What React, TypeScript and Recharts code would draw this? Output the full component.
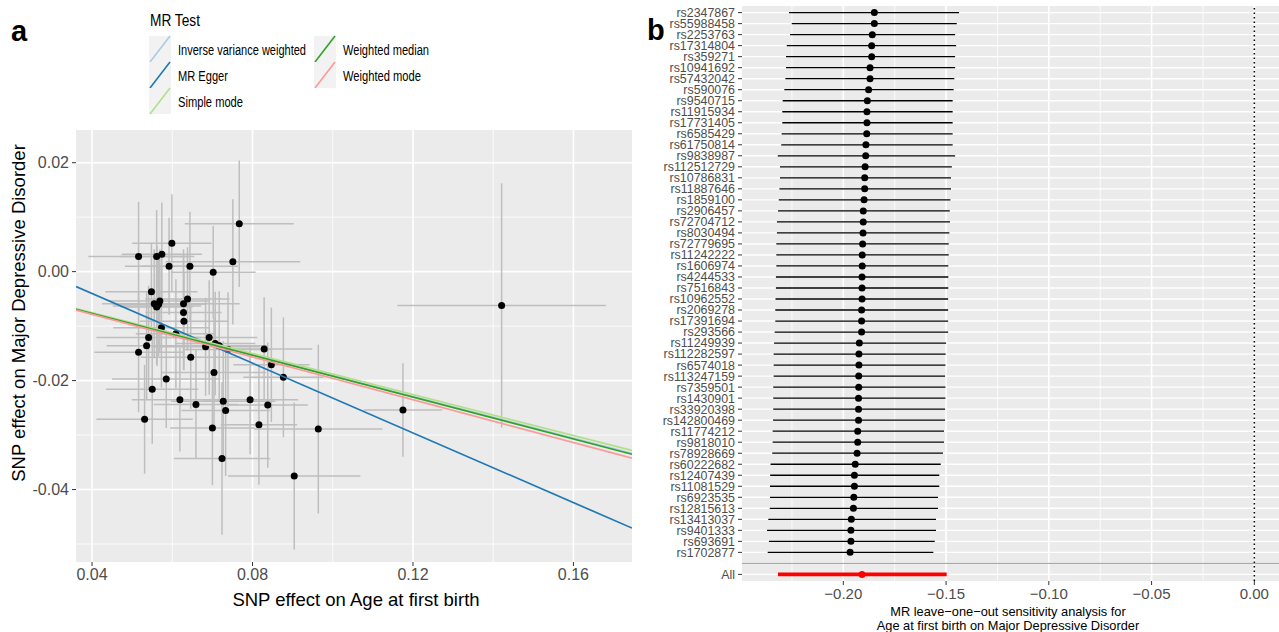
import React from 'react'
import {
  ScatterChart,
  Scatter,
  XAxis,
  YAxis,
  ErrorBar,
  ReferenceLine,
  ReferenceArea,
} from 'recharts'

// ---- panel a: per-SNP effects on exposure (x) and outcome (y), with SEs
const snpX = [
  0.0767, 0.0599, 0.0516, 0.0561, 0.0574, 0.0592, 0.0644, 0.0751, 0.0702, 0.0548,
  0.0555, 0.0562, 0.0569, 0.0561, 0.0638, 0.0628, 0.0628, 0.0629, 0.0573, 0.0609,
  0.0541, 0.0692, 0.0536, 0.0516, 0.0683, 0.0707, 0.0717, 0.0739, 0.0646, 0.0829,
  0.0847, 0.0704, 0.0877, 0.0585, 0.055, 0.0619, 0.0659, 0.0727, 0.0733, 0.0794,
  0.0838, 0.0531, 0.07, 0.0816, 0.0964, 0.0724, 0.0904, 0.1175, 0.1421, 0.0566,
]
const snpY = [
  0.0088, 0.0052, 0.0028, 0.0028, 0.0032, 0.001, 0.001, 0.0018, -0.0001, -0.0037,
  -0.0059, -0.0063, -0.0054, -0.0065, -0.005, -0.0059, -0.0075, -0.0091, -0.0103, -0.0114,
  -0.0121, -0.0121, -0.0136, -0.0148, -0.0138, -0.0132, -0.0136, -0.0143, -0.0157, -0.0142,
  -0.0171, -0.0185, -0.0194, -0.0197, -0.0216, -0.0235, -0.0244, -0.0238, -0.0255, -0.0235,
  -0.0245, -0.0271, -0.0287, -0.0281, -0.0289, -0.0343, -0.0375, -0.0254, -0.0062, -0.006,
]
const seX = [
  0.0136, 0.0099, 0.0125, 0.0094, 0.01, 0.011, 0.012, 0.0168, 0.0106, 0.0115,
  0.013, 0.011, 0.0125, 0.009, 0.0105, 0.014, 0.0095, 0.011, 0.012, 0.01,
  0.013, 0.012, 0.01, 0.011, 0.0135, 0.01, 0.012, 0.011, 0.0125, 0.012,
  0.0095, 0.013, 0.01, 0.0135, 0.0115, 0.012, 0.0105, 0.013, 0.011, 0.012,
  0.01, 0.012, 0.0105, 0.0095, 0.016, 0.012, 0.0165, 0.0098, 0.026, 0.0115,
]
const seY = [
  0.0116, 0.009, 0.01, 0.0085, 0.0095, 0.0089, 0.01, 0.0115, 0.0085, 0.009,
  0.01, 0.011, 0.0095, 0.0105, 0.0095, 0.01, 0.0105, 0.009, 0.011, 0.01,
  0.0095, 0.0105, 0.01, 0.011, 0.009, 0.0095, 0.01, 0.0105, 0.0095, 0.0095,
  0.0105, 0.01, 0.011, 0.009, 0.01, 0.0095, 0.01, 0.011, 0.012, 0.01,
  0.0115, 0.01, 0.0105, 0.011, 0.0155, 0.014, 0.0135, 0.0086, 0.0224, 0.0095,
]

const methods = ['Inverse variance weighted', 'MR Egger', 'Simple mode', 'Weighted median', 'Weighted mode']
const methodColors = ['#a6cee3', '#1f78b4', '#b2df8a', '#33a02c', '#fb9a99']
const methodSlope = [-0.191, -0.32, -0.188, -0.192, -0.196]
const methodIntercept = [0, 0.0088, 0, 0, 0]

const xDomA = [0.036, 0.1746]
const yDomA = [-0.0533, 0.026]
const xTicksA = [0.04, 0.08, 0.12, 0.16]
const xMinorA = [0.06, 0.1, 0.14]
const yTicksA = [-0.04, -0.02, 0, 0.02]
const yMinorA = [-0.05, -0.03, -0.01, 0.01]

// ---- panel b: leave-one-out estimates
const snpNames = [
  'rs2347867', 'rs55988458', 'rs2253763', 'rs17314804', 'rs359271', 'rs10941692', 'rs57432042',
  'rs590076', 'rs9540715', 'rs11915934', 'rs17731405', 'rs6585429', 'rs61750814', 'rs9838987',
  'rs112512729', 'rs10786831', 'rs11887646', 'rs1859100', 'rs2906457', 'rs72704712', 'rs8030494',
  'rs72779695', 'rs11242222', 'rs1606974', 'rs4244533', 'rs7516843', 'rs10962552', 'rs2069278',
  'rs17391694', 'rs293566', 'rs11249939', 'rs112282597', 'rs6574018', 'rs113247159', 'rs7359501',
  'rs1430901', 'rs33920398', 'rs142800469', 'rs11774212', 'rs9818010', 'rs78928669', 'rs60222682',
  'rs12407439', 'rs11081529', 'rs6923535', 'rs12815613', 'rs13413037', 'rs9401333', 'rs693691',
  'rs1702877',
]
const looB = [
  -0.1849, -0.1849, -0.1859, -0.1862, -0.1862, -0.187, -0.187, -0.1877, -0.1883, -0.1885,
  -0.1885, -0.1886, -0.189, -0.1891, -0.1894, -0.1896, -0.1896, -0.1899, -0.1903, -0.1903,
  -0.1904, -0.1906, -0.1908, -0.1908, -0.1909, -0.1909, -0.1909, -0.1911, -0.1911, -0.1911,
  -0.1922, -0.1924, -0.1924, -0.1925, -0.1925, -0.1926, -0.1926, -0.1926, -0.193, -0.193,
  -0.1933, -0.1942, -0.1946, -0.1946, -0.1949, -0.1951, -0.1961, -0.1963, -0.1963, -0.1967,
]
const looLo = [
  -0.2264, -0.2251, -0.2259, -0.2275, -0.2279, -0.2279, -0.2282, -0.2287, -0.2295, -0.2297,
  -0.2297, -0.23, -0.2302, -0.2319, -0.2308, -0.2308, -0.2311, -0.2314, -0.2318, -0.2323,
  -0.2323, -0.2326, -0.2326, -0.2326, -0.2328, -0.2328, -0.233, -0.2331, -0.2331, -0.2334,
  -0.2337, -0.2339, -0.2339, -0.2339, -0.2341, -0.2341, -0.2341, -0.2342, -0.2344, -0.2344,
  -0.2346, -0.2354, -0.2356, -0.2357, -0.2357, -0.2358, -0.2365, -0.2371, -0.2362, -0.2368,
]
const looHi = [
  -0.1437, -0.1448, -0.1456, -0.1451, -0.1456, -0.1456, -0.146, -0.1463, -0.1468, -0.1468,
  -0.1468, -0.1468, -0.1468, -0.1456, -0.1472, -0.1476, -0.1476, -0.1479, -0.1482, -0.1481,
  -0.1484, -0.1487, -0.1487, -0.1489, -0.1489, -0.1489, -0.149, -0.149, -0.149, -0.149,
  -0.15, -0.1502, -0.1503, -0.1505, -0.1503, -0.1503, -0.1505, -0.1505, -0.151, -0.151,
  -0.1515, -0.1526, -0.1533, -0.1533, -0.1539, -0.1539, -0.1549, -0.1549, -0.1555, -0.1562,
]
const allB = -0.1909
const allLo = -0.2318
const allHi = -0.1497

const xDomB = [-0.2493, 0.012]
const xTicksB = [-0.2, -0.15, -0.1, -0.05, 0]
const xMinorB = [-0.225, -0.175, -0.125, -0.075, -0.025]

const FONT = '"Liberation Sans", Arial, Helvetica, sans-serif'
const GRID_BG = '#ebebeb'
const TEXT_GREY = '#4d4d4d'

const pointsA = snpX.map((x, i) => ({ x, y: snpY[i], ex: seX[i], ey: seY[i] }))

const methodLines = methods.map((m, i) => ({
  name: m,
  color: methodColors[i],
  data: xDomA.map((x) => ({ x, y: methodIntercept[i] + methodSlope[i] * x })),
}))

const allPos = snpNames.length + 1 // one blank row between SNPs and "All"
const rowsB = snpNames.map((name, i) => ({
  name,
  pos: i,
  b: looB[i],
  err: [looB[i] - looLo[i], looHi[i] - looB[i]],
}))
const allRow = [{ name: 'All', pos: allPos, b: allB, err: [allB - allLo, allHi - allB] }]
const posTicks = [...rowsB.map((r) => r.pos), allPos]
const rowLines = Array.from({ length: allPos + 1 }, (_, i) => i)

const labelAt = (p: number) => (p === allPos ? 'All' : snpNames[p] ?? '')
const fmtMinus = (v: number) => (v === 0 ? '0.00' : '\u2212' + Math.abs(v).toFixed(2))

const Dot = (color: string, r: number) => (props: any) =>
  <circle cx={props.cx} cy={props.cy} r={r} fill={color} />

const NoShape = () => <g />

function Legend() {
  const col1 = [0, 1, 2]
  const col2 = [3, 4]
  const widths = [128, 50, 65, 86, 78]
  const key = (i: number, x: number, y: number) => (
    <g key={methods[i]}>
      <rect x={x} y={y} width={22} height={26} fill="#f2f2f2" />
      <line x1={x + 1} y1={y + 26} x2={x + 21} y2={y} stroke={methodColors[i]} strokeWidth={1.6} />
      <text
        x={x + 29}
        y={y + 19}
        fontSize={14}
        fill="#000"
        textLength={widths[i]}
        lengthAdjust="spacingAndGlyphs"
      >
        {methods[i]}
      </text>
    </g>
  )
  return (
    <svg width={520} height={125} style={{ position: 'absolute', left: 0, top: 0 }} fontFamily={FONT}>
      <text x={150} y={26} fontSize={16} textLength={50} lengthAdjust="spacingAndGlyphs">
        MR Test
      </text>
      {col1.map((i, k) => key(i, 149, 36 + k * 26))}
      {col2.map((i, k) => key(i, 314, 36 + k * 26))}
    </svg>
  )
}

function PanelA() {
  return (
    <div style={{ position: 'absolute', left: 0, top: 0 }}>
      <ScatterChart width={640} height={632} margin={{ top: 130, right: 8, bottom: 40, left: 0 }}>
        <XAxis
          type="number"
          dataKey="x"
          domain={xDomA}
          ticks={xTicksA}
          allowDataOverflow
          tickFormatter={(v) => v.toFixed(2)}
          height={30}
          tickSize={4}
          tickMargin={3}
          tick={{ fontSize: 16, fill: TEXT_GREY, fontFamily: FONT }}
          tickLine={{ stroke: '#333' }}
          axisLine={false}
        />
        <YAxis
          type="number"
          dataKey="y"
          domain={yDomA}
          ticks={yTicksA}
          allowDataOverflow
          tickFormatter={(v) => v.toFixed(2)}
          width={76}
          tickSize={4}
          tickMargin={3}
          tick={{ fontSize: 16, fill: TEXT_GREY, fontFamily: FONT }}
          tickLine={{ stroke: '#333' }}
          axisLine={false}
        />
        <ReferenceArea
          x1={xDomA[0]}
          x2={xDomA[1]}
          y1={yDomA[0]}
          y2={yDomA[1]}
          fill={GRID_BG}
          fillOpacity={1}
          stroke="none"
        />
        {xMinorA.map((v) => <ReferenceLine key={'xm' + v} x={v} stroke="#fff" strokeWidth={0.8} />)}
        {yMinorA.map((v) => <ReferenceLine key={'ym' + v} y={v} stroke="#fff" strokeWidth={0.8} />)}
        {xTicksA.map((v) => <ReferenceLine key={'xM' + v} x={v} stroke="#fff" strokeWidth={1.6} />)}
        {yTicksA.map((v) => <ReferenceLine key={'yM' + v} y={v} stroke="#fff" strokeWidth={1.6} />)}
        <Scatter data={pointsA} isAnimationActive={false} shape={Dot('#000', 3.5)}>
          <ErrorBar dataKey="ex" direction="x" width={0} stroke="#bebebe" strokeWidth={1.5} />
          <ErrorBar dataKey="ey" direction="y" width={0} stroke="#bebebe" strokeWidth={1.5} />
        </Scatter>
        {methodLines.map((m) => (
          <Scatter
            key={m.name}
            data={m.data}
            isAnimationActive={false}
            line={{ stroke: m.color, strokeWidth: 1.7 }}
            shape={NoShape}
          />
        ))}
      </ScatterChart>
    </div>
  )
}

function PanelB() {
  return (
    <div style={{ position: 'absolute', left: 640, top: 0 }}>
      <ScatterChart width={639} height={632} margin={{ top: 6, right: 0, bottom: 26, left: 0 }}>
        <XAxis
          type="number"
          dataKey="b"
          domain={xDomB}
          ticks={xTicksB}
          allowDataOverflow
          tickFormatter={fmtMinus}
          height={25}
          tickSize={4}
          tickMargin={3}
          tick={{ fontSize: 15, fill: TEXT_GREY, fontFamily: FONT }}
          tickLine={{ stroke: '#333' }}
          axisLine={false}
        />
        <YAxis
          type="number"
          dataKey="pos"
          domain={[-0.6, allPos + 0.6]}
          reversed
          ticks={posTicks}
          interval={0}
          allowDataOverflow
          tickFormatter={labelAt}
          width={102}
          tickSize={4}
          tickMargin={3}
          tick={{ fontSize: 12.4, fill: TEXT_GREY, fontFamily: FONT }}
          tickLine={{ stroke: '#333' }}
          axisLine={false}
        />
        <ReferenceArea
          x1={xDomB[0]}
          x2={xDomB[1]}
          y1={-0.6}
          y2={allPos + 0.6}
          fill={GRID_BG}
          fillOpacity={1}
          stroke="none"
        />
        {xMinorB.map((v) => <ReferenceLine key={'xm' + v} x={v} stroke="#fff" strokeWidth={0.8} />)}
        {xTicksB.map((v) => <ReferenceLine key={'xM' + v} x={v} stroke="#fff" strokeWidth={1.6} />)}
        {rowLines.map((p) => <ReferenceLine key={'r' + p} y={p} stroke="#fff" strokeWidth={1.4} />)}
        <ReferenceLine x={0} stroke="#000" strokeWidth={1.5} strokeDasharray="1.5 3" />
        <Scatter data={rowsB} isAnimationActive={false} shape={Dot('#000', 3.5)}>
          <ErrorBar dataKey="err" direction="x" width={0} stroke="#000" strokeWidth={1.3} />
        </Scatter>
        <Scatter data={allRow} isAnimationActive={false} shape={Dot('#ff0000', 3.5)}>
          <ErrorBar dataKey="err" direction="x" width={0} stroke="#ff0000" strokeWidth={3.6} />
        </Scatter>
        <ReferenceLine y={snpNames.length} stroke="#9e9e9e" strokeWidth={1} />
      </ScatterChart>
    </div>
  )
}

export default function App() {
  return (
    <div
      style={{
        position: 'absolute',
        left: 0,
        top: 0,
        width: 1279,
        height: 632,
        background: '#fff',
        overflow: 'hidden',
        fontFamily: FONT,
      }}
    >
      <PanelA />
      <PanelB />
      <Legend />
      <svg width={1279} height={632} style={{ position: 'absolute', left: 0, top: 0, pointerEvents: 'none' }} fontFamily={FONT}>
        <text x={11} y={41} fontSize={29} fontWeight="bold">a</text>
        <text x={647} y={40} fontSize={29} fontWeight="bold">b</text>
        <text x={356} y={606} fontSize={18.5} textAnchor="middle">SNP effect on Age at first birth</text>
        <text
          x={0}
          y={0}
          fontSize={18.5}
          textAnchor="middle"
          transform="translate(25 313) rotate(-90)"
        >
          SNP effect on Major Depressive Disorder
        </text>
        <text x={1008} y={616} fontSize={12.8} textAnchor="middle" fill="#000">
          MR leave{'\u2212'}one{'\u2212'}out sensitivity analysis for
        </text>
        <text x={1008} y={630} fontSize={12.8} textAnchor="middle" fill="#000">
          Age at first birth on Major Depressive Disorder
        </text>
      </svg>
    </div>
  )
}
